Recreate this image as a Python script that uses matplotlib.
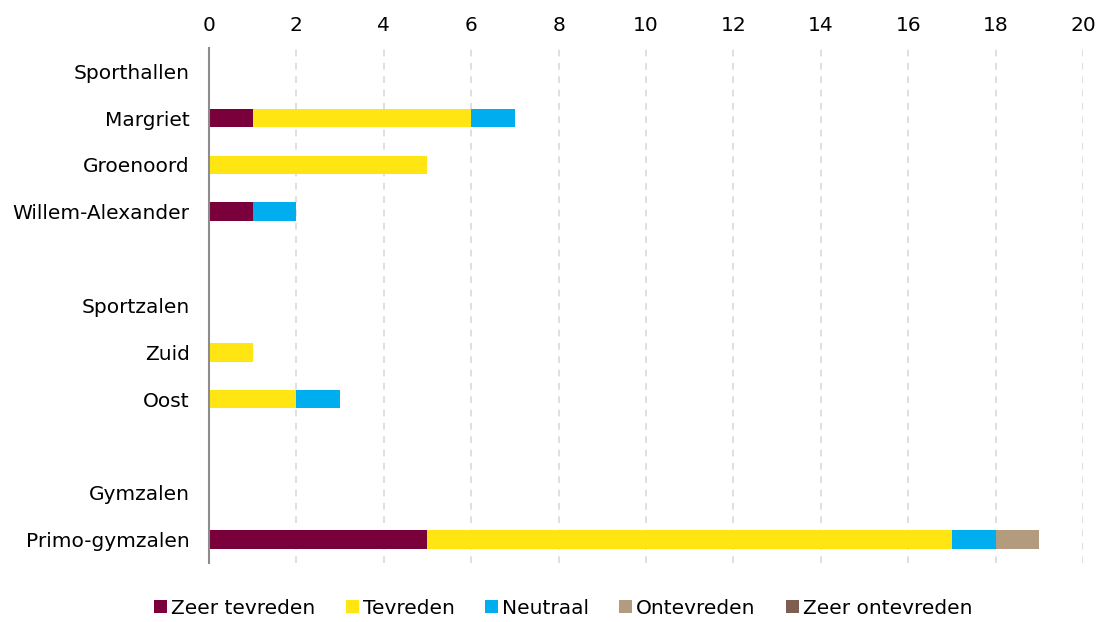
import matplotlib.pyplot as plt
import numpy as np

# categorieën (lege strings = witregel tussen groepen)
locaties = ['Sporthallen', 'Margriet', 'Groenoord', 'Willem-Alexander', '',
            'Sportzalen', 'Zuid', 'Oost', '', 'Gymzalen', 'Primo-gymzalen']

zeer_tevreden = [0, 1, 0, 1, 0, 0, 0, 0, 0, 0, 5]
tevreden = [0, 5, 5, 0, 0, 0, 1, 2, 0, 0, 12]
neutraal = [0, 1, 0, 1, 0, 0, 0, 1, 0, 0, 1]
ontevreden = [0, 0, 0, 0, 0, 0, 0, 0, 0, 0, 1]
zeer_ontevreden = [0, 0, 0, 0, 0, 0, 0, 0, 0, 0, 0]

reeksen = [
    ('Zeer tevreden', zeer_tevreden, '#7A003C'),
    ('Tevreden', tevreden, '#FFE512'),
    ('Neutraal', neutraal, '#00AEEF'),
    ('Ontevreden', ontevreden, '#B39C7D'),
    ('Zeer ontevreden', zeer_ontevreden, '#7D5E50'),
]

plt.rcParams['font.family'] = ['DejaVu Sans']

fig = plt.figure(figsize=(11, 6.22), dpi=100)
ax = fig.add_axes([0.19, 0.095, 0.7945, 0.828])

y = np.arange(len(locaties))
left = np.zeros(len(locaties))
for naam, waarden, kleur in reeksen:
    waarden = np.array(waarden, dtype=float)
    ax.barh(y, waarden, left=left, height=0.4, color=kleur, label=naam)
    left += waarden

ax.set_ylim(len(locaties) - 0.5, -0.5)
ax.set_xlim(0, 20)
ax.set_xticks(range(0, 21, 2))
ax.set_yticks(y)
ax.set_yticklabels(locaties)
ax.xaxis.tick_top()
ax.tick_params(axis='both', length=0, labelsize=14.5)
ax.tick_params(axis='y', pad=14)
ax.tick_params(axis='x', pad=9)

ax.grid(axis='x', color='#d9d9d9', linestyle=(0, (4, 4)), linewidth=1.2)
ax.set_axisbelow(True)
for kant in ['top', 'right', 'bottom']:
    ax.spines[kant].set_visible(False)
ax.spines['left'].set_color('#8c8c8c')
ax.spines['left'].set_linewidth(1.5)

fig.legend(loc='lower center', bbox_to_anchor=(0.512, -0.022), ncol=5,
           frameon=False, fontsize=14.5, handlelength=0.65, handleheight=0.65,
           handletextpad=0.2, columnspacing=1.5)

fig.savefig('out.png', dpi=100)
